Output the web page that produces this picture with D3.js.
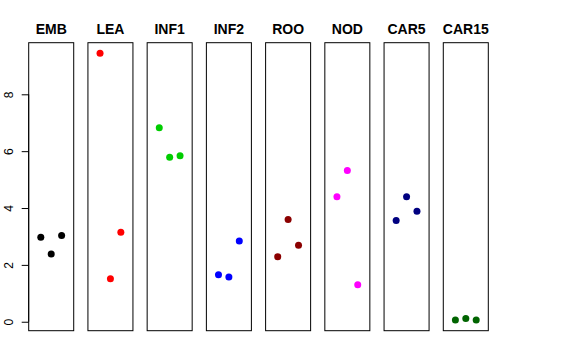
<!DOCTYPE html>
<html>
<head>
<meta charset="utf-8">
<script src="https://cdn.jsdelivr.net/npm/d3@7"></script>
<style>
  body { margin: 0; background: #fff; }
  svg { display: block; font-family: "Liberation Sans", Arial, Helvetica, sans-serif; }
</style>
</head>
<body>
<svg id="chart" width="576" height="360"></svg>
<script>
// stages, one panel each
const stages = ['EMB', 'LEA', 'INF1', 'INF2', 'ROO', 'NOD', 'CAR5', 'CAR15']
// three replicates per stage, left to right
const values = [
	[2.97, 2.38, 3.03],
	[9.44, 1.51, 3.15],
	[6.82, 5.79, 5.84],
	[1.65, 1.57, 2.84],
	[2.29, 3.60, 2.69],
	[4.40, 5.32, 1.30],
	[3.56, 4.40, 3.89],
	[0.06, 0.11, 0.06]
]
const colours = ['#000000', '#ff0000', '#00cd00', '#0000ff', '#8b0000', '#ff00ff', '#000080', '#006400']
const yTicks = [0, 2, 4, 6, 8]

const svg = d3.select('#chart')

let all = values.flat()
let lo = d3.min(all), hi = d3.max(all)
let pad = (hi - lo) * 0.04

let y = d3.scaleLinear()
	.domain([lo - pad, hi + pad])
	.range([330.7, 42.7])

let x = d3.scaleBand()
	.domain(stages)
	.range([28.7, 488.3])
	.paddingInner(0.24)
	.paddingOuter(0)

// position of a replicate inside a panel
let rep = d3.scaleLinear()
	.domain([0, 2])
	.range([-10.4, 10.4])

let panels = svg.selectAll('g.panel')
	.data(stages)
	.enter()
	.append('g')
	.attr('class', 'panel')
	.attr('transform', d => `translate(${x(d)},0)`)

panels.append('rect')
	.attr('x', 0)
	.attr('y', y.range()[1])
	.attr('width', x.bandwidth())
	.attr('height', y.range()[0] - y.range()[1])
	.style('fill', 'none')
	.style('stroke', '#000')
	.style('stroke-width', 1)

panels.append('text')
	.attr('x', x.bandwidth() / 2)
	.attr('y', 34)
	.attr('text-anchor', 'middle')
	.style('font-size', '14px')
	.style('font-weight', 'bold')
	.text(d => d)

panels.each(function(d, i) {
	d3.select(this).selectAll('circle')
		.data(values[i])
		.enter()
		.append('circle')
		.attr('cx', (v, j) => x.bandwidth() / 2 + rep(j))
		.attr('cy', v => y(v))
		.attr('r', 3.5)
		.style('fill', colours[i])
})

// y axis on the first panel's left edge
let axis = svg.append('g')
	.attr('transform', `translate(${x(stages[0])},0)`)
	.call(d3.axisLeft(y).tickValues(yTicks).tickSize(7).tickPadding(0).tickFormat(d3.format('d')))

axis.select('.domain')
	.attr('d', `M0,${y(0)}V${y(8)}`)
	.style('stroke', '#000')

axis.selectAll('.tick text')
	.attr('x', 0)
	.attr('dy', null)
	.attr('text-anchor', 'middle')
	.attr('transform', 'translate(-16,0) rotate(-90)')
	.style('font-size', '12px')
	.style('font-family', '"Liberation Sans", Arial, sans-serif')
	.style('fill', '#000')
</script>
</body>
</html>
